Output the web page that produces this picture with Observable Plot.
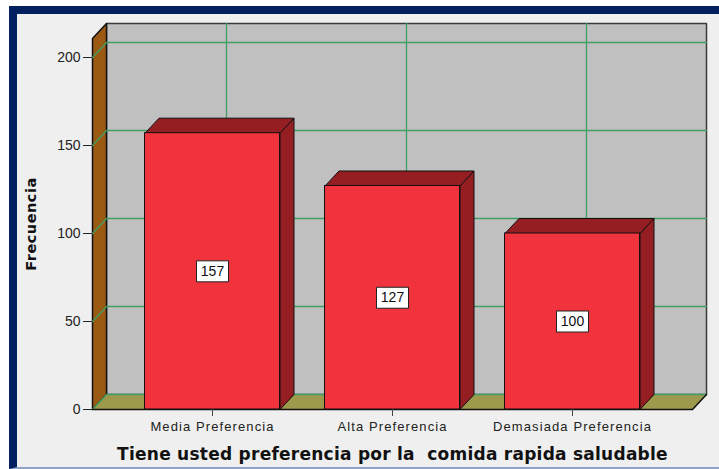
<!DOCTYPE html>
<html><head><meta charset="utf-8">
<script src="https://cdn.jsdelivr.net/npm/d3@7"></script>
<script src="https://cdn.jsdelivr.net/npm/@observablehq/plot@0.6"></script>
<style>
html,body{margin:0;padding:0;background:#fff;}
#frame{position:absolute;left:9px;top:6px;width:710px;height:463px;box-sizing:border-box;border-top:8px solid #002060;border-left:8px solid #002060;border-bottom:2px solid #8ea2c6;background:#efefef;}
#chart{position:absolute;left:0;top:0;}
#chart svg{overflow:visible;}
svg text{white-space:pre;}
</style></head><body>
<div id="frame"></div><div id="chart"></div>
<script>
// ---- data ----
const categories = ["Media Preferencia", "Alta Preferencia", "Demasiada Preferencia"];
const values = [157, 127, 100];
const yTicks = [0, 50, 100, 150, 200];
const yMax = 210.8;
const xTitle = "Tiene usted preferencia por la  comida rapida saludable";
const yTitle = "Frecuencia";

// ---- 3D geometry (style) ----
const xL = -2/3, xR = 8/3, half = 0.375;
const dX = 14/180, dY = 15/1.76;

const poly = (id, pts) => [...pts, pts[0]].map(([x, y]) => ({id, x, y}));
const path = (id, pts) => pts.map(([x, y]) => ({id, x, y}));

const bars = categories.map((c, i) => ({i, c, v: values[i]}));

const backWall = poly("back", [[xL+dX, dY], [xR+dX, dY], [xR+dX, yMax+dY], [xL+dX, yMax+dY]]);
const leftWall = poly("left", [[xL, 0], [xL+dX, dY], [xL+dX, yMax+dY], [xL, yMax]]);
const floor = poly("floor", [[xL, 0], [xR, 0], [xR+dX, dY], [xL+dX, dY]]);
const hGrid = yTicks.flatMap(t => path("h"+t, [[xL, t], [xL+dX, t+dY], [xR+dX, t+dY]]));
const vGrid = categories.flatMap((c, i) => path("v"+i, [[i+dX, dY], [i+dX, yMax+dY]]));
const floorEdge = path("fe", [[xL, 0], [xR, 0], [xR+dX, dY]]);
const sides = bars.flatMap(b => poly("s"+b.i, [[b.i+half, 0], [b.i+half+dX, dY], [b.i+half+dX, b.v+dY], [b.i+half, b.v]]));
const tops = bars.flatMap(b => poly("t"+b.i, [[b.i-half, b.v], [b.i+half, b.v], [b.i+half+dX, b.v+dY], [b.i-half+dX, b.v+dY]]));

const boxSymbol = {draw(ctx) { ctx.rect(-16, -10.5, 32, 21); }};
const boldFont = "'DejaVu Sans', Verdana, sans-serif";

const chart = Plot.plot({
  width: 719, height: 469,
  marginLeft: 92, marginRight: 27, marginTop: 38, marginBottom: 60,
  style: {background: "transparent", fontFamily: "'Liberation Sans', Arial, sans-serif", overflow: "visible"},
  x: {type: "linear", domain: [xL, xR]},
  y: {type: "linear", domain: [0, yMax]},
  marks: [
    Plot.line(backWall, {x: "x", y: "y", z: "id", fill: "#c0c0c0", stroke: "#3a3a3a", strokeWidth: 1.5}),
    Plot.line(leftWall, {x: "x", y: "y", z: "id", fill: "#9a5a14", stroke: "#111", strokeWidth: 1.5}),
    Plot.line(floor, {x: "x", y: "y", z: "id", fill: "#9d9a4b", stroke: "none"}),
    Plot.line(hGrid, {x: "x", y: "y", z: "id", stroke: "#3f9e63", strokeWidth: 1.3}),
    Plot.line(vGrid, {x: "x", y: "y", z: "id", stroke: "#3f9e63", strokeWidth: 1.3}),
    Plot.line(floorEdge, {x: "x", y: "y", z: "id", stroke: "#111", strokeWidth: 1.5}),
    Plot.line(sides, {x: "x", y: "y", z: "id", fill: "#951e22", stroke: "#111", strokeWidth: 1}),
    Plot.line(tops, {x: "x", y: "y", z: "id", fill: "#951e22", stroke: "#111", strokeWidth: 1}),
    Plot.rect(bars, {x1: d => d.i - half, x2: d => d.i + half, y1: 0, y2: "v", fill: "#f0333c", stroke: "#111", strokeWidth: 1}),
    Plot.dot(bars, {x: "i", y: d => d.v / 2, symbol: boxSymbol, r: 10, fill: "white", stroke: "#222", strokeWidth: 1}),
    Plot.text(bars, {x: "i", y: d => d.v / 2, text: d => String(d.v), fontSize: 14, fill: "#111"}),
    Plot.axisY(yTicks, {tickSize: 9, tickPadding: 3, fontSize: 14, stroke: "#222", fill: "#222", label: null}),
    Plot.axisX(d3.range(categories.length), {tickFormat: i => categories[i], tickSize: 7, tickPadding: 5, fontSize: 13, stroke: "#444", fill: "#222", label: null}),
    Plot.text([yTitle], {text: d => d, frameAnchor: "left", textAnchor: "middle", dx: -61.5, rotate: -90, fontSize: 14.5, fontWeight: "bold", fontFamily: boldFont, fill: "#111"}),
    Plot.text([xTitle], {text: d => d, frameAnchor: "bottom", textAnchor: "middle", lineAnchor: "bottom", dy: 50, fontSize: 17, fontWeight: "bold", fontFamily: boldFont, fill: "#111"})
  ]
});
document.getElementById("chart").appendChild(chart);
const sel = d3.select(chart).selectAll("text");
sel.filter(function() { return categories.includes(this.textContent); }).style("letter-spacing", "1.1px");
sel.filter(function() { return this.textContent === yTitle; }).style("letter-spacing", "0.5px");
sel.filter(function() { return this.textContent === xTitle; }).style("letter-spacing", "0.25px");
</script>
</body></html>
